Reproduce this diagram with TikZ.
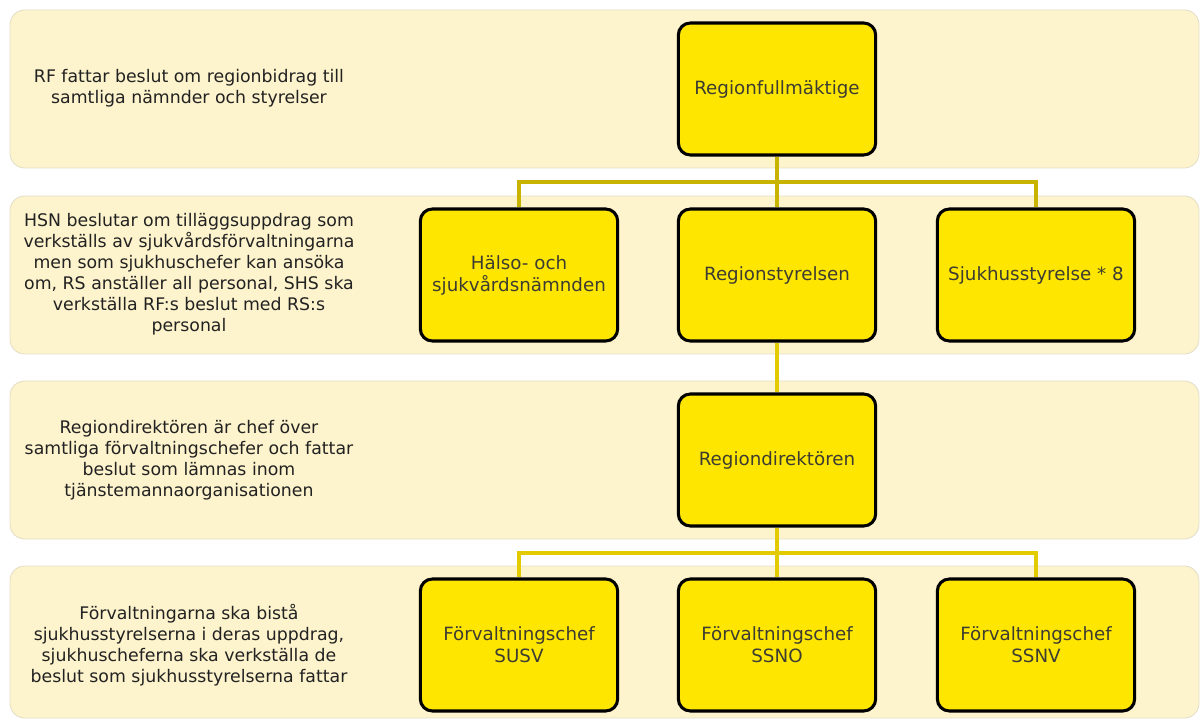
\documentclass[tikz,border=0pt]{standalone}
\usepackage{fontspec}
\setmainfont{DejaVu Sans}

\definecolor{bandfill}{HTML}{FDF3CC}
\definecolor{bandline}{HTML}{E2DDC6}
\definecolor{boxfill}{HTML}{FFE600}
\definecolor{linkdark}{HTML}{C8B400}
\definecolor{linklight}{HTML}{E2CB00}
\definecolor{boxtext}{HTML}{3C3C32}
\definecolor{sidetext}{HTML}{222222}

\tikzset{
  band/.style={draw=bandline, fill=bandfill, line width=0.6pt, rounded corners=11pt},
  orgbox/.style={draw=black, fill=boxfill, line width=2.3pt, rounded corners=9pt,
    minimum width=148pt, minimum height=99pt, align=center, text=boxtext,
    font=\fontsize{13.7}{16.5}\selectfont, inner sep=2pt},
  sidenote/.style={align=center, text=sidetext, font=\fontsize{13}{15.75}\selectfont},
  link/.style={draw=linkdark, line width=2.3pt},
  linklow/.style={draw=linklight, line width=2.3pt},
}

\begin{document}
\begin{tikzpicture}[x=0.75pt,y=-0.75pt]
\useasboundingbox (0,0) rectangle (1200,720);

% bands
\draw[band] (10,10) rectangle (1199,168);
\draw[band] (10,196) rectangle (1199,354);
\draw[band] (10,381) rectangle (1199,539);
\draw[band] (10,566) rectangle (1199,718);

% notes
\node[sidenote] (noteRF) at (189,88) {RF fattar beslut om regionbidrag till\\samtliga nämnder och styrelser};
\node[sidenote] (noteHSN) at (189,274) {HSN beslutar om tilläggsuppdrag som\\verkställs av sjukvårdsförvaltningarna\\men som sjukhuschefer kan ansöka\\om, RS anställer all personal, SHS ska\\verkställa RF:s beslut med RS:s\\personal};
\node[sidenote] (noteRD) at (189,460) {Regiondirektören är chef över\\samtliga förvaltningschefer och fattar\\beslut som lämnas inom\\tjänstemannaorganisationen};
\node[sidenote] (noteFC) at (189,645) {Förvaltningarna ska bistå\\sjukhusstyrelserna i deras uppdrag,\\sjukhuscheferna ska verkställa de\\beslut som sjukhusstyrelserna fattar};

% junctions
\coordinate (j1) at (777,182);
\coordinate (j2) at (777,553);

% boxes
\node[orgbox] (rf) at (777,89) {Regionfullmäktige};
\node[orgbox] (hsn) at (519,275) {Hälso- och\\sjukvårdsnämnden};
\node[orgbox] (rs) at (777,275) {Regionstyrelsen};
\node[orgbox] (shs) at (1036,275) {Sjukhusstyrelse * 8};
\node[orgbox] (rd) at (777,460) {Regiondirektören};
\node[orgbox] (fcA) at (519,645) {Förvaltningschef\\SUSV};
\node[orgbox] (fcB) at (777,645) {Förvaltningschef\\SSNO};
\node[orgbox] (fcC) at (1036,645) {Förvaltningschef\\SSNV};

% connectors
\draw[link] (rf.south) -- (rs.north);
\draw[link] (hsn.north) |- (j1) -| (shs.north);
\draw[linklow] (rs.south) -- (rd.north);
\draw[linklow] (rd.south) -- (fcB.north);
\draw[linklow] (fcA.north) |- (j2) -| (fcC.north);

\end{tikzpicture}
\end{document}
